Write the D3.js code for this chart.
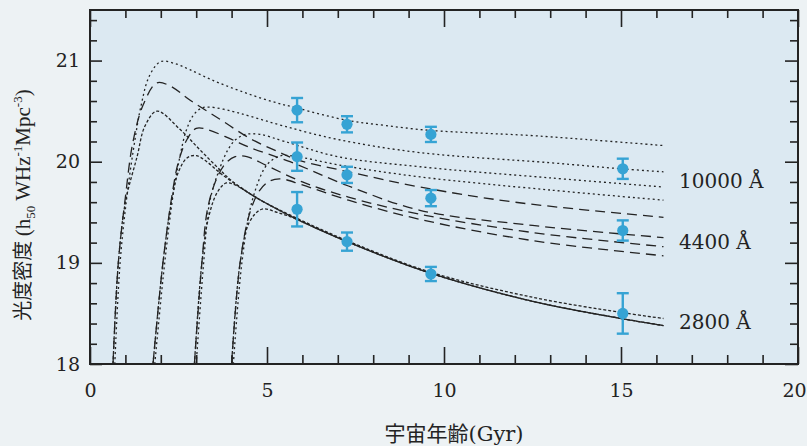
<!DOCTYPE html>
<html><head><meta charset="utf-8">
<script src="https://cdn.jsdelivr.net/npm/d3@7"></script>
<style>
html,body{margin:0;padding:0;background:#edf2f4;}
svg{display:block;}
</style></head><body>
<svg id="chart" width="807" height="446"></svg>
<script>
// Observed luminosity density (h50 W Hz^-1 Mpc^-3) vs. age of the universe (Gyr)
const obsAges = [5.85, 7.26, 9.63, 15.05];
const obs10000 = [20.51, 20.37, 20.27, 19.93];
const err10000 = [0.12, 0.08, 0.075, 0.10];
const obs4400 = [20.05, 19.87, 19.64, 19.32];
const err4400 = [0.14, 0.08, 0.08, 0.10];
const obs2800 = [19.53, 19.21, 18.89, 18.50];
const err2800 = [0.17, 0.09, 0.07, 0.20];

// Model tracks: four formation epochs, three wavelengths each ([age, log density])
const m10000_1 = [[0.7,18.0],[0.85,19.0],[1.04,19.65],[1.24,20.15],[1.44,20.55],[1.68,20.85],[2.0,20.99],[2.4,20.97],[2.82,20.91],[3.5,20.8],[4.24,20.7],[5.0,20.61],[5.85,20.53],[7.26,20.41],[8.3,20.36],[9.6,20.31],[12.4,20.26],[14.0,20.22],[16.2,20.16]];
const m4400_1 = [[0.65,18.0],[0.8,19.0],[1.0,19.65],[1.21,20.19],[1.5,20.56],[1.89,20.78],[2.26,20.75],[2.82,20.61],[3.67,20.42],[4.52,20.23],[5.37,20.09],[5.85,20.02],[7.3,19.9],[9.32,19.75],[12.0,19.6],[16.2,19.45]];
const m2800_1 = [[0.65,18.0],[0.8,19.0],[1.0,19.6],[1.33,20.05],[1.55,20.35],[1.89,20.5],[2.54,20.32],[3.1,20.12],[3.67,19.92],[4.04,19.8],[4.72,19.64],[5.85,19.44],[7.26,19.22],[9.6,18.91],[12.5,18.66],[15.0,18.51],[16.2,18.45]];

const m10000_2 = [[1.83,18.0],[2.11,19.0],[2.38,19.75],[2.54,20.05],[2.71,20.3],[2.92,20.46],[3.15,20.53],[3.4,20.54],[4.0,20.5],[4.52,20.45],[5.5,20.35],[7.0,20.22],[9.32,20.09],[13.0,19.99],[15.0,19.93],[16.2,19.9]];
const m4400_2 = [[1.78,18.0],[2.06,19.0],[2.34,19.72],[2.5,20.0],[2.74,20.22],[3.0,20.33],[3.3,20.32],[4.0,20.22],[4.52,20.14],[5.65,20.0],[7.3,19.76],[9.32,19.52],[12.5,19.37],[16.2,19.25]];
const m2800_2 = [[1.78,18.0],[2.06,19.0],[2.3,19.6],[2.5,19.9],[2.75,20.04],[3.0,20.06],[3.3,20.0],[3.7,19.88],[4.2,19.76],[4.72,19.64],[5.85,19.43],[7.26,19.21],[9.6,18.9],[12.5,18.62],[15.0,18.45],[16.2,18.38]];

const m10000_3 = [[3.0,18.0],[3.21,19.0],[3.38,19.6],[3.65,19.92],[3.9,20.12],[4.12,20.22],[4.4,20.27],[4.8,20.27],[5.5,20.2],[7.0,20.05],[9.32,19.95],[13.0,19.84],[16.2,19.75]];
const m4400_3 = [[2.95,18.0],[3.16,19.0],[3.33,19.55],[3.6,19.85],[3.85,19.99],[4.1,20.05],[4.43,20.05],[5.0,19.96],[6.0,19.8],[7.3,19.65],[9.32,19.48],[12.5,19.3],[16.2,19.16]];
const m2800_3 = [[2.95,18.0],[3.16,19.0],[3.35,19.45],[3.6,19.7],[3.85,19.79],[4.1,19.77],[4.72,19.64],[5.85,19.43],[7.26,19.21],[9.6,18.9],[12.5,18.62],[15.0,18.45],[16.2,18.38]];

const m10000_4 = [[4.05,18.0],[4.29,19.0],[4.57,19.6],[4.92,19.93],[5.12,20.01],[5.4,20.06],[5.85,20.05],[7.0,19.97],[9.32,19.85],[13.0,19.72],[16.2,19.62]];
const m4400_4 = [[4.0,18.0],[4.24,19.0],[4.52,19.5],[4.8,19.72],[5.08,19.81],[5.4,19.83],[6.0,19.77],[7.3,19.62],[9.32,19.43],[12.5,19.22],[16.2,19.07]];
const m2800_4 = [[4.0,18.0],[4.24,19.0],[4.5,19.4],[4.85,19.53],[5.28,19.5],[5.85,19.43],[7.26,19.21],[9.6,18.9],[12.5,18.62],[15.0,18.45],[16.2,18.38]];

const tracks10000 = [m10000_1, m10000_2, m10000_3, m10000_4];
const tracks4400 = [m4400_1, m4400_2, m4400_3, m4400_4];
const tracks2800 = [m2800_1, m2800_2, m2800_3, m2800_4];

const bandLabels = ["10000 Å", "4400 Å", "2800 Å"];
const bandLabelY = [19.74, 19.14, 18.35];

const xMajor = [0, 5, 10, 15, 20];
const xMinor = d3.range(0, 21, 1);
const yMajor = [18, 19, 20, 21];
const yMinor = d3.range(18, 21.51, 0.2);

const svg = d3.select("#chart");
const L = 90, R = 798, T = 10, B = 364;

const x = d3.scaleLinear().domain([0, 20]).range([L, R]);
const y = d3.scaleLinear().domain([18, 21.5]).range([B, T]);

const ink = "#232323";
const dotBlue = "#36a3d4";

// plot background
svg.append("rect").attr("x", L).attr("y", T).attr("width", R - L).attr("height", B - T)
  .attr("fill", "#dce9f2");

svg.append("defs").append("clipPath").attr("id", "plotClip")
  .append("rect").attr("x", L).attr("y", T).attr("width", R - L).attr("height", B - T);

// ticks on all four sides, pointing inward
function tickAxis(axisFn, scale, values, size, labels, pad) {
  const a = axisFn(scale).tickValues(values).tickSize(-size).tickPadding(pad || 0);
  if (!labels) a.tickFormat("");
  else a.tickFormat(d3.format("d"));
  return a;
}
function drawAxis(a, transform) {
  const g = svg.append("g").attr("transform", transform).call(a);
  g.select(".domain").remove();
  g.selectAll("line").attr("stroke", ink).attr("stroke-width", 1.6);
  g.selectAll("text").attr("fill", ink).attr("font-family", "'DejaVu Serif', serif").attr("font-size", 19);
  return g;
}
drawAxis(tickAxis(d3.axisBottom, x, xMinor.filter(v => v % 5 !== 0), 9, false), `translate(0,${B})`);
const xLab = drawAxis(tickAxis(d3.axisBottom, x, xMajor, 17, true, 20), `translate(0,${B})`);
// keep the last tick label inside the page edge
xLab.selectAll("text").filter(d => d === 20).attr("dx", -4);
drawAxis(tickAxis(d3.axisTop, x, xMinor.filter(v => v % 5 !== 0), 8, false), `translate(0,${T})`);
drawAxis(tickAxis(d3.axisTop, x, xMajor, 17, false), `translate(0,${T})`);
const yMinorOnly = yMinor.filter(v => Math.abs(v - Math.round(v)) > 0.01);
drawAxis(tickAxis(d3.axisLeft, y, yMinorOnly, 7, false), `translate(${L},0)`);
drawAxis(tickAxis(d3.axisLeft, y, yMajor, 12, true, 10), `translate(${L},0)`);
drawAxis(tickAxis(d3.axisRight, y, yMinorOnly, 8, false), `translate(${R},0)`);
drawAxis(tickAxis(d3.axisRight, y, yMajor, 13, false), `translate(${R},0)`);

// frame
svg.append("rect").attr("x", L).attr("y", T).attr("width", R - L).attr("height", B - T)
  .attr("fill", "none").attr("stroke", ink).attr("stroke-width", 2);

// model tracks
const line = d3.line().x(d => x(d[0])).y(d => y(d[1])).curve(d3.curveCatmullRom.alpha(0.5));
const tracks = svg.append("g").attr("clip-path", "url(#plotClip)")
  .attr("fill", "none").attr("stroke", ink).attr("stroke-width", 1.3);

tracks.selectAll("path.t10000").data(tracks10000).join("path")
  .attr("class", "t10000").attr("d", line).attr("stroke-dasharray", "2,3");
tracks.selectAll("path.t4400").data(tracks4400).join("path")
  .attr("class", "t4400").attr("d", line).attr("stroke-dasharray", "10,6");
tracks.selectAll("path.t2800").data(tracks2800).join("path")
  .attr("class", "t2800").attr("d", line).attr("stroke-dasharray", "3,2");

// observations with error bars
const obsSets = [[obs10000, err10000], [obs4400, err4400], [obs2800, err2800]];
const pts = [];
obsSets.forEach(([vals, errs]) => vals.forEach((v, i) => pts.push({ a: obsAges[i], v, e: errs[i] })));

const og = svg.append("g");
const ebar = og.selectAll("g.eb").data(pts).join("g").attr("class", "eb");
ebar.append("line").attr("x1", d => x(d.a)).attr("x2", d => x(d.a))
  .attr("y1", d => y(d.v + d.e)).attr("y2", d => y(d.v - d.e))
  .attr("stroke", dotBlue).attr("stroke-width", 2.4);
[1, -1].forEach(s => {
  ebar.append("line").attr("x1", d => x(d.a) - 6).attr("x2", d => x(d.a) + 6)
    .attr("y1", d => y(d.v + s * d.e)).attr("y2", d => y(d.v + s * d.e))
    .attr("stroke", dotBlue).attr("stroke-width", 2.4);
});
ebar.append("circle").attr("cx", d => x(d.a)).attr("cy", d => y(d.v)).attr("r", 5.6)
  .attr("fill", dotBlue);

// band labels
svg.append("g").selectAll("text").data(bandLabels).join("text")
  .attr("x", 679).attr("y", (d, i) => y(bandLabelY[i]))
  .attr("font-family", "'DejaVu Serif', serif").attr("font-size", 20).attr("fill", ink)
  .text(d => d);

// axis titles
svg.append("text").attr("x", (L + R) / 2 + 10).attr("y", 441).attr("text-anchor", "middle")
  .attr("font-family", "'DejaVu Serif', 'Noto Sans CJK JP', serif").attr("font-size", 21).attr("fill", ink)
  .text("宇宙年齢(Gyr)");

const yt = svg.append("text").attr("transform", "translate(30,205) rotate(-90)")
  .attr("text-anchor", "middle")
  .attr("font-family", "'Liberation Serif', 'Noto Sans CJK JP', serif").attr("font-size", 21).attr("fill", ink);
yt.append("tspan").attr("font-family", "'Noto Sans CJK JP', sans-serif").attr("font-size", 20).text("光度密度 ");
yt.append("tspan").text("(h");
yt.append("tspan").attr("font-size", 13).attr("dy", 5).text("50");
yt.append("tspan").attr("dy", -5).text(" WHz");
yt.append("tspan").attr("font-size", 13).attr("dy", -8).text("-1");
yt.append("tspan").attr("dy", 8).text("Mpc");
yt.append("tspan").attr("font-size", 13).attr("dy", -8).text("-3");
yt.append("tspan").attr("dy", 8).text(")");
</script></body></html>
